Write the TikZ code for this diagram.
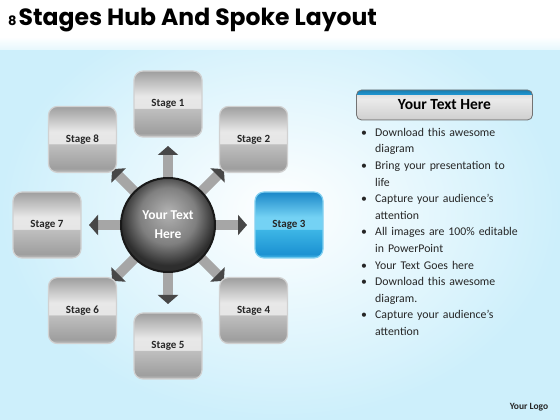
\documentclass[tikz,border=0pt]{standalone}
\usepackage{fontspec}
\setmainfont{Carlito}
\newfontfamily\titlefont{Poppins}
\usetikzlibrary{arrows.meta}

\definecolor{bgblue}{HTML}{CDEFFB}
\definecolor{blueT}{HTML}{1A87C8}
\definecolor{blueL}{HTML}{74D2F4}
\definecolor{blueM}{HTML}{3DB6E6}
\definecolor{blueB}{HTML}{1C92D2}
\definecolor{blueE}{HTML}{4DBCE9}
\definecolor{headblue}{HTML}{1F94CF}

\pgfdeclareverticalshading{stagegray}{100bp}{color(0bp)=(black!24); color(25bp)=(black!24);
  color(28bp)=(black!38); color(46.5bp)=(black!25); color(47bp)=(black!10);
  color(56bp)=(black!9); color(75bp)=(black!38); color(100bp)=(black!38)}
\pgfdeclareverticalshading{stageblue}{100bp}{color(0bp)=(blueE); color(25bp)=(blueE);
  color(28bp)=(blueB); color(46.5bp)=(blueM); color(47bp)=(blueL);
  color(56bp)=(blueL); color(75bp)=(blueT); color(100bp)=(blueT)}
\pgfdeclareverticalshading{headbar}{100bp}{color(0bp)=(black!35); color(25bp)=(black!35);
  color(28bp)=(black!18); color(60bp)=(black!8); color(67bp)=(black!12);
  color(68bp)=(headblue); color(75bp)=(headblue!85!black); color(100bp)=(headblue!85!black)}
\pgfdeclareradialshading{hubball}{\pgfpoint{0bp}{7bp}}{color(0bp)=(black!30);
  color(15bp)=(black!50); color(25bp)=(black!82); color(50bp)=(black!82)}

\newcommand{\bitem}[1]{\hangindent=14pt\hangafter=1\noindent\makebox[14pt][l]{\textbullet}#1\par}

\begin{document}
\begin{tikzpicture}[
                x=1pt, y=1pt,
                stage/.style={
                    rounded corners=9pt,
                    minimum width=68pt,
                    minimum height=66pt,
                    draw=black!18,
                    line width=1.2pt,
                    shade, shading=stagegray,
                    font=\bfseries\fontsize{11}{13}\selectfont,
                    text=black!85,
                },
                stagehot/.style={
                    stage,
                    draw=blueE!70,
                    shading=stageblue,
                },
                hubstyle/.style={
                    circle,
                    minimum size=94pt,
                    inner sep=0pt,
                    draw=black!90,
                    line width=2pt,
                    shade, shading=hubball,
                    text=white,
                    align=center,
                    font=\bfseries\fontsize{13.5}{19}\selectfont,
                },
                spoke/.style={
                    line width=10pt,
                    draw=black!35,
                    -{Triangle[length=9pt,width=20pt,color=black!72]},
                },
                headstyle/.style={
                    rounded corners=5pt,
                    minimum width=176pt,
                    minimum height=30pt,
                    draw=black!55,
                    line width=0.8pt,
                    shade, shading=headbar,
                    font=\bfseries\fontsize{15.5}{17}\selectfont,
                },
                liststyle/.style={
                    text width=180pt,
                    inner sep=0pt,
                    font=\fontsize{11.8}{16.6}\selectfont,
                    text=black!85,
                },
            ]
            \useasboundingbox (0,0) rectangle (560,420);
            % background
            \shade[inner color=white, outer color=bgblue] (0,0) rectangle (560,420);
            \fill[white] (0,383) rectangle (560,420);
            \shade[top color=white, bottom color=white!50!bgblue] (0,370) rectangle (560,383);

            \node[anchor=base west, inner sep=0pt] (title) at (8,394)
                {\titlefont\bfseries{\fontsize{13}{13}\selectfont 8}\ \fontsize{23.5}{25}\selectfont Stages Hub And Spoke Layout};

            % hub and spokes
            \coordinate (c) at (168,195);
            \foreach \a in {0,45,...,315} {
                \path (c) ++(\a:79) coordinate (tip\a);
                \draw[spoke] (c) -- (tip\a);
            }
            \node[hubstyle] (hub) at (c) {Your Text\\Here};

            \foreach \n/\a/\s in {1/90/stage, 2/45/stage, 3/0/stagehot, 4/-45/stage,
                                  5/-90/stage, 6/-135/stage, 7/180/stage, 8/135/stage} {
                \path (c) ++(\a:121) node[\s] (stage\n) {Stage \n};
            }

            % text panel
            \node[headstyle] (head) at (444.5,315) {Your Text Here};
            \node[liststyle, anchor=north west] (list) at (361,292) {%
                \bitem{Download this awesome\newline diagram}
                \bitem{Bring your presentation to\newline life}
                \bitem{Capture your audience’s\newline attention}
                \bitem{All images are 100\% editable\newline in PowerPoint}
                \bitem{Your Text Goes here}
                \bitem{Download this awesome\newline diagram.}
                \bitem{Capture your audience’s\newline attention}
            };

            \node[font=\bfseries\fontsize{9.5}{11}\selectfont, text=black!85] (logo) at (529,13) {Your Logo};
        \end{tikzpicture}
\end{document}
